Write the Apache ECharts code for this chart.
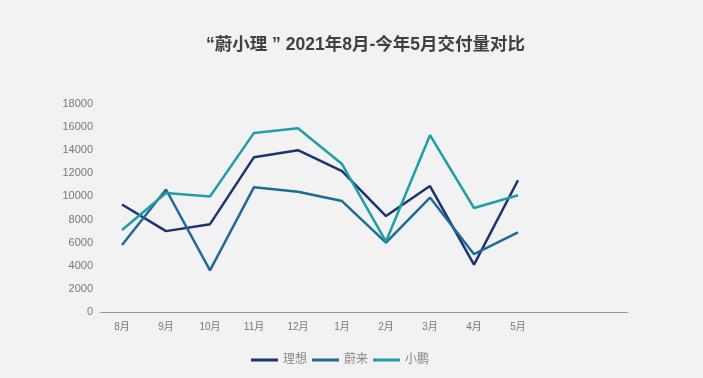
<!DOCTYPE html>
<html>
<head>
<meta charset="utf-8">
<script src="https://cdn.jsdelivr.net/npm/echarts@6/dist/echarts.min.js"></script>
<style>
html, body { margin: 0; padding: 0; background: #f2f2f2; }
#chart { width: 703px; height: 378px; }
</style>
</head>
<body>
<div id="chart"></div>
<script>
// 月份（后两个为空位）
var months = ['8月', '9月', '10月', '11月', '12月', '1月', '2月', '3月', '4月', '5月', '', ''];
// 交付量
var lixiang = [9300, 7000, 7600, 13400, 14000, 12200, 8300, 10900, 4100, 11400];
var weilai = [5800, 10600, 3600, 10800, 10400, 9600, 6000, 9900, 5000, 6900];
var xiaopeng = [7100, 10300, 10000, 15500, 15900, 12800, 6100, 15300, 9000, 10100];

var myChart = echarts.init(document.getElementById('chart'));
var font = '"Liberation Sans", "Noto Sans CJK SC", sans-serif';

function line(name, data, color) {
	return {
		name: name,
		type: 'line',
		data: data,
		symbol: 'none',
		lineStyle: { width: 2.5, color: color },
		itemStyle: { color: color }
	};
}

var option = {
	backgroundColor: '#f2f2f2',
	textStyle: { fontFamily: font },
	title: {
		text: '“蔚小理 ” 2021年8月-今年5月交付量对比',
		left: 201,
		top: 31,
		textStyle: { fontSize: 17.5, fontWeight: 'bold', color: '#404040', fontFamily: font }
	},
	legend: {
		bottom: 7,
		left: 246,
		itemWidth: 27,
		itemHeight: 3,
		itemGap: 5,
		icon: 'rect',
		textStyle: { color: '#888', fontSize: 12, fontFamily: font },
		data: ['理想', '蔚来', '小鹏']
	},
	grid: { left: 100, right: 75, top: 104, bottom: 66 },
	xAxis: {
		type: 'category',
		data: months,
		axisLine: { lineStyle: { color: '#999', width: 1 } },
		axisTick: { show: false },
		axisLabel: { color: '#777', fontSize: 10, margin: 10 }
	},
	yAxis: {
		type: 'value',
		min: 0,
		max: 18000,
		interval: 2000,
		splitLine: { show: false },
		axisLine: { show: false },
		axisTick: { show: false },
		axisLabel: {
			color: '#777',
			fontSize: 11,
			margin: 7,
			formatter: function (v) { return String(v); }
		}
	},
	series: [
		line('理想', lixiang, '#1c3370'),
		line('蔚来', weilai, '#1e6a9a'),
		line('小鹏', xiaopeng, '#1f9ea6')
	]
};
myChart.setOption(option);
</script>
</body>
</html>
